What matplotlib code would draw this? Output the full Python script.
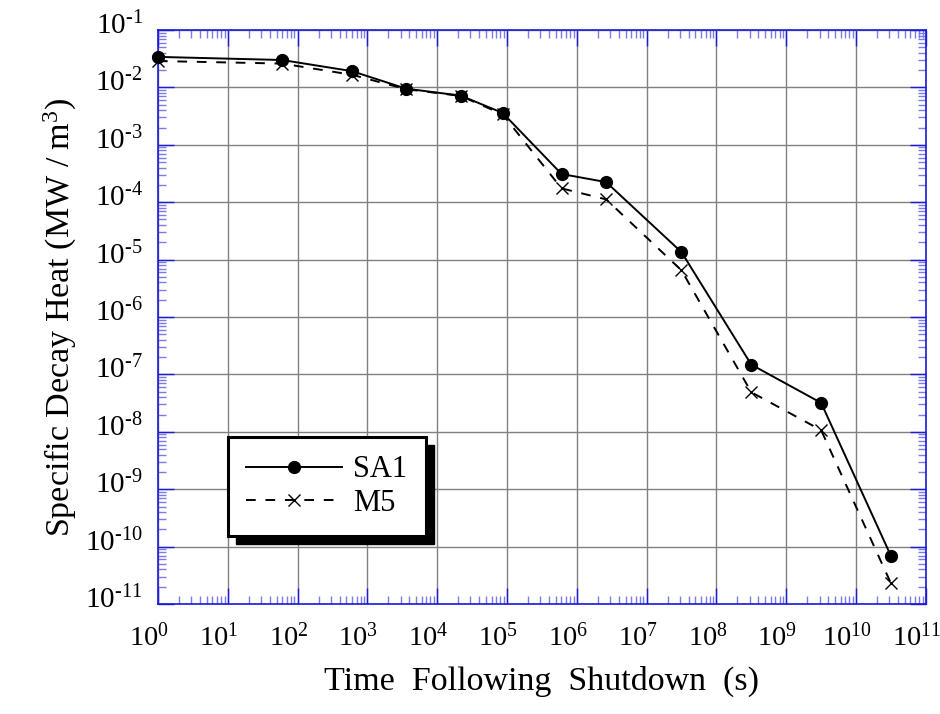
import numpy as np
import matplotlib
matplotlib.use("Agg")
import matplotlib.pyplot as plt
from matplotlib.patches import Rectangle
from matplotlib.transforms import ScaledTranslation, IdentityTransform
from matplotlib.ticker import LogLocator, FixedLocator, NullFormatter

plt.rcParams['font.family'] = ['Liberation Serif', 'DejaVu Serif']
plt.rcParams['mathtext.fontset'] = 'custom'
plt.rcParams['mathtext.rm'] = 'Liberation Serif'
plt.rcParams['mathtext.it'] = 'Liberation Serif:italic'

# time after shutdown (s): 1 s, 1 min, 10 min, 1 h, 6 h, 1 d, 1 wk, 1 mo, 1 y, 10 y, 100 y, 1000 y
time_s = [1, 60, 600, 3600, 21600, 86400, 604800, 2.63e6, 3.156e7, 3.156e8, 3.156e9, 3.156e10]
sa1 = [0.034, 0.030, 0.0192, 0.0095, 0.0072, 0.0036, 3.1e-4, 2.24e-4, 1.35e-5, 1.48e-7, 3.2e-8, 6.9e-11]
m5 = [0.0288, 0.026, 0.0166, 0.0093, 0.0071, 0.0034, 1.74e-4, 1.12e-4, 6.5e-6, 4.9e-8, 1.07e-8, 2.3e-11]

x_exp = list(range(0, 12))
y_exp = list(range(-11, 0))

fig = plt.figure(figsize=(9.4, 7.14), dpi=100)
ax = fig.add_axes([0.168, 0.154, 0.817, 0.804])

ax.plot(time_s, sa1, '-', color='black', lw=1.4, marker='o', ms=8.5, label='SA1', clip_on=False, zorder=3)
ax.plot(time_s, m5, color='black', lw=1.4, ls=(0, (5, 5)), marker='x', ms=9, mew=1.0,
        label='M5', clip_on=False, zorder=3)

ax.set_xscale('log')
ax.set_yscale('log')
ax.set_xlim(1, 1e11)
ax.set_ylim(1e-11, 1e-1)

ax.xaxis.set_major_locator(FixedLocator([10.0 ** e for e in x_exp]))
ax.yaxis.set_major_locator(FixedLocator([10.0 ** e for e in y_exp]))
ax.set_xticklabels(['$10^{%d}$' % e for e in x_exp])
ax.set_yticklabels([r'$10^{\text{%d}}$' % e for e in y_exp])
ax.xaxis.set_minor_locator(LogLocator(base=10, subs=np.arange(2, 10), numticks=100))
ax.yaxis.set_minor_locator(LogLocator(base=10, subs=np.arange(2, 10), numticks=100))
ax.xaxis.set_minor_formatter(NullFormatter())
ax.yaxis.set_minor_formatter(NullFormatter())

ax.grid(True, which='major', color='#808080', lw=1.0)
ax.set_axisbelow(True)

for sp in ax.spines.values():
    sp.set_color('#1a1adc')
    sp.set_linewidth(1.2)

ax.tick_params(which='both', direction='in', top=True, right=True)
ax.tick_params(which='major', length=11.5, width=1.0, color='#1a1adc', labelsize=21)
ax.tick_params(which='minor', length=5.8, width=1.0, color='#7b7bea')
ax.tick_params(axis='x', which='major', pad=14, labelsize=20.5)
ax.tick_params(axis='y', which='major', pad=11)

# y labels sit a little above their gridlines, x labels a little left
offy = ScaledTranslation(0, 7 / 100, fig.dpi_scale_trans)
for lbl in ax.get_yticklabels():
    lbl.set_transform(lbl.get_transform() + offy)
offx = ScaledTranslation(-9 / 100, 0, fig.dpi_scale_trans)
for lbl in ax.get_xticklabels():
    lbl.set_transform(lbl.get_transform() + offx)

ax.set_xlabel('Time  Following  Shutdown  (s)', fontsize=24.5, labelpad=10)
ax.set_ylabel('Specific Decay Heat (MW / m$^3$)', fontsize=24.5, labelpad=4)

leg = ax.legend(loc='upper left', bbox_to_anchor=(0.091, 0.291), borderaxespad=0,
                fontsize=22, handlelength=3.15, fancybox=False, framealpha=1,
                edgecolor='black', labelspacing=0.15, handletextpad=0.35,
                borderpad=0.6)
leg.get_frame().set_linewidth(2.2)
leg.set_zorder(10)

fig.canvas.draw()
bb = leg.get_frame().get_window_extent()
shadow = Rectangle((bb.x0 + 8, bb.y0 - 8), bb.width, bb.height, transform=IdentityTransform(),
                   facecolor='black', edgecolor='black', zorder=9)
ax.add_artist(shadow)

fig.savefig('out.png', dpi=100)
